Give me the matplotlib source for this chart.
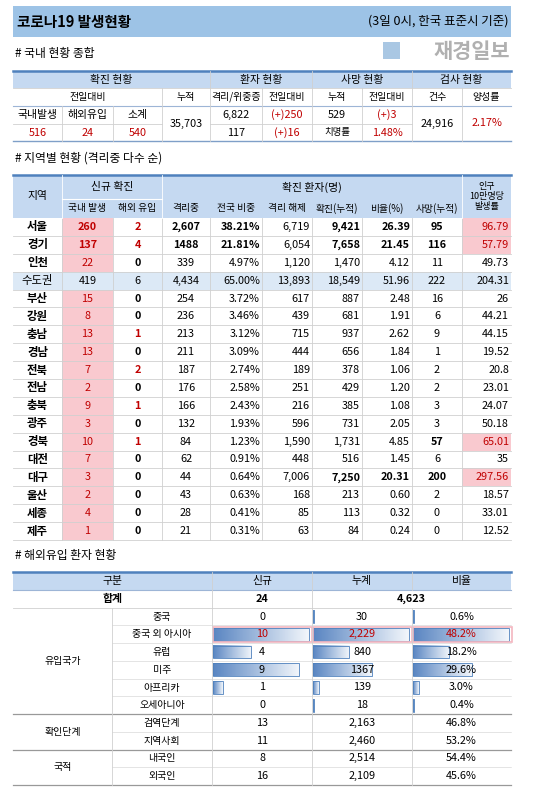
import numpy as np
import matplotlib
matplotlib.use("Agg")
import matplotlib.pyplot as plt
from matplotlib.patches import Rectangle

plt.rcParams['font.family'] = ['Noto Sans CJK KR', 'DejaVu Sans']

# ---- data ----
title = "코로나19 발생현황"
subtitle = "(3일 0시, 한국 표준시 기준)"

# summary table
new_domestic, new_overseas, new_total = 516, 24, 540
cum_total = "35,703"
isolated, isolated_diff = "6,822", "(+)250"
critical, critical_diff = "117", "(+)16"
deaths, deaths_diff = "529", "(+)3"
fatality = "1.48%"
tests, positive = "24,916", "2.17%"

# regional table
regions = ["서울", "경기", "인천", "수도권", "부산", "강원", "충남", "경남", "전북", "전남",
           "충북", "광주", "경북", "대전", "대구", "울산", "세종", "제주"]
reg_domestic = [260, 137, 22, 419, 15, 8, 13, 13, 7, 2, 9, 3, 10, 7, 3, 2, 4, 1]
reg_overseas = [2, 4, 0, 6, 0, 0, 1, 0, 2, 0, 1, 0, 1, 0, 0, 0, 0, 0]
reg_isolated = ["2,607", "1488", "339", "4,434", "254", "236", "213", "211", "187", "176",
                "166", "132", "84", "62", "44", "43", "28", "21"]
reg_share = ["38.21%", "21.81%", "4.97%", "65.00%", "3.72%", "3.46%", "3.12%", "3.09%", "2.74%",
             "2.58%", "2.43%", "1.93%", "1.23%", "0.91%", "0.64%", "0.63%", "0.41%", "0.31%"]
reg_released = ["6,719", "6,054", "1,120", "13,893", "617", "439", "715", "444", "189", "251",
                "216", "596", "1,590", "448", "7,006", "168", "85", "63"]
reg_cum = ["9,421", "7,658", "1,470", "18,549", "887", "681", "937", "656", "378", "429",
           "385", "731", "1,731", "516", "7,250", "213", "113", "84"]
reg_ratio = ["26.39", "21.45", "4.12", "51.96", "2.48", "1.91", "2.62", "1.84", "1.06", "1.20",
             "1.08", "2.05", "4.85", "1.45", "20.31", "0.60", "0.32", "0.24"]
reg_deaths = [95, 116, 11, 222, 16, 6, 9, 1, 2, 2, 3, 3, 57, 6, 200, 2, 0, 0]
reg_per100k = ["96.79", "57.79", "49.73", "204.31", "26", "44.21", "44.15", "19.52", "20.8",
               "23.01", "24.07", "50.18", "65.01", "35", "297.56", "18.57", "33.01", "12.52"]

# overseas inflow table
groups = [("유입국가", 6), ("확인단계", 2), ("국적", 2)]
sub_names = ["중국", "중국 외 아시아", "유럽", "미주", "아프리카", "오세아니아",
             "검역단계", "지역사회", "내국인", "외국인"]
sub_new = [0, 10, 4, 9, 1, 0, 13, 11, 8, 16]
sub_cum = [30, 2229, 840, 1367, 139, 18, 2163, 2460, 2514, 2109]
sub_cum_lbl = ["30", "2,229", "840", "1367", "139", "18", "2,163", "2,460", "2,514", "2,109"]
sub_pct = [0.6, 48.2, 18.2, 29.6, 3.0, 0.4, 46.8, 53.2, 54.4, 45.6]
total_new, total_cum = "24", "4,623"

# ---- drawing ----
W, H = 548, 793
fig = plt.figure(figsize=(W / 100, H / 100), dpi=100)
ax = fig.add_axes([0, 0, 1, 1])
ax.set_xlim(0, W)
ax.set_ylim(H, 0)
ax.axis("off")

HEAD = "#c5d9f1"
PINK = "#f9c9cf"
RED = "#c00000"
GRID = "#d0d0d0"
BLUE = "#4f81bd"
FS = 7.8


def cell(x0, x1, y0, y1, text="", bg=None, color="black", bold=False, ha="center", fs=FS):
    if bg:
        ax.add_patch(Rectangle((x0, y0), x1 - x0, y1 - y0, facecolor=bg, edgecolor="none", zorder=1))
    if text != "":
        if ha == "center":
            tx = (x0 + x1) / 2
        elif ha == "right":
            tx = x1 - 2
        else:
            tx = x0 + 3
        ax.text(tx, (y0 + y1) / 2, str(text), ha=ha, va="center", fontsize=fs, color=color,
                fontweight="bold" if bold else "normal", zorder=4)


def hline(y, x0=13, x1=511, c=GRID, lw=0.6):
    ax.plot([x0, x1], [y, y], color=c, lw=lw, zorder=3)


def vline(x, y0, y1, c=GRID, lw=0.6):
    ax.plot([x, x], [y0, y1], color=c, lw=lw, zorder=3)


# title bar
ax.add_patch(Rectangle((13, 6), 498, 31, facecolor="#9dc3e6", edgecolor="none"))
ax.text(17, 21.5, title, fontsize=10.5, fontweight="bold", va="center")
ax.text(508, 21.5, subtitle, fontsize=9, va="center", ha="right")
ax.text(15, 53, "# 국내 현황 종합", fontsize=8.5, va="center")
ax.text(510, 51, "재경일보", fontsize=15, fontweight="bold", color="#b0b0b0", va="center", ha="right")
ax.add_patch(Rectangle((383, 42), 17, 17, facecolor="#a9c7e3", edgecolor="none"))

# ---- table 1 ----
cols = [13, 62, 113, 162, 210, 262, 312, 362, 412, 462, 511]
r = [71, 88, 106, 124, 141]
cell(13, 511, r[0], r[1], bg=HEAD)
for (a, b, t) in [(0, 4, "확진 현황"), (4, 6, "환자 현황"), (6, 8, "사망 현황"), (8, 10, "검사 현황")]:
    cell(cols[a], cols[b], r[0], r[1], t)
for (a, b, t) in [(0, 3, "전일대비"), (3, 4, "누적"), (4, 5, "격리/위중증"), (5, 6, "전일대비"),
                  (6, 7, "누적"), (7, 8, "전일대비"), (8, 9, "건수"), (9, 10, "양성률")]:
    cell(cols[a], cols[b], r[1], r[2], t, fs=7.2)
for i, t in enumerate(["국내발생", "해외유입", "소계"]):
    cell(cols[i], cols[i + 1], r[2], r[3], t)
for i, v in enumerate([new_domestic, new_overseas, new_total]):
    cell(cols[i], cols[i + 1], r[3], r[4], v, color=RED)
cell(cols[3], cols[4], r[2], r[4], cum_total)
cell(cols[4], cols[5], r[2], r[3], isolated)
cell(cols[5], cols[6], r[2], r[3], isolated_diff, color=RED)
cell(cols[4], cols[5], r[3], r[4], critical)
cell(cols[5], cols[6], r[3], r[4], critical_diff, color=RED)
cell(cols[6], cols[7], r[2], r[3], deaths)
cell(cols[7], cols[8], r[2], r[3], deaths_diff, color=RED)
cell(cols[6], cols[7], r[3], r[4], "치명률", fs=6.8)
cell(cols[7], cols[8], r[3], r[4], fatality, color=RED)
cell(cols[8], cols[9], r[2], r[4], tests)
cell(cols[9], cols[10], r[2], r[4], positive, color=RED)
hline(r[0], c=BLUE, lw=1.8)
hline(r[1], x0=13, x1=511)
hline(r[2], c="#9db5d6", lw=0.8)
hline(r[3], x0=13, x1=cols[3])
hline(r[3], x0=cols[4], x1=cols[8])
hline(r[4], c="#7f9fc8", lw=1.0)
for x in [cols[4], cols[6], cols[8]]:
    vline(x, r[0], r[4])
for x in [cols[3], cols[5], cols[7], cols[9]]:
    vline(x, r[1], r[4])
for x in [cols[1], cols[2]]:
    vline(x, r[2], r[4])

# ---- table 2 ----
ax.text(15, 158, "# 지역별 현황 (격리중 다수 순)", fontsize=8.5, va="center")
t0, t1, t2 = 175, 199, 218
rh = (540 - t2) / len(regions)
cell(13, 511, t0, t2, bg=HEAD)
cell(cols[0], cols[1], t0, t2, "지역")
cell(cols[1], cols[3], t0, t1, "신규 확진")
cell(cols[3], cols[9], t0, t1, "확진 환자(명)")
for i, t in enumerate(["국내 발생", "해외 유입", "격리중", "전국 비중", "격리 해제",
                       "확진(누적)", "비율(%)", "사망(누적)"]):
    cell(cols[i + 1], cols[i + 2], t1, t2, t, fs=7.0)
cell(cols[9], cols[10], t0, t2, "인구\n10만명당\n발생률", fs=6.5)
ax.plot([cols[1], cols[3]], [t1, t1], color="white", lw=0.8, zorder=3)
hline(t0, c=BLUE, lw=1.8)
pink_pop = {"서울", "경기", "경북", "대구"}
for i, name in enumerate(regions):
    y0 = t2 + i * rh
    y1 = y0 + rh
    metro = name == "수도권"
    big = i < 2
    if metro:
        cell(13, 511, y0, y1, bg="#dce9f6")
    cell(cols[0], cols[1], y0, y1, name, bold=not metro, fs=8.2)
    cell(cols[1], cols[2], y0, y1, reg_domestic[i], bg=None if metro else PINK,
         color="black" if metro else RED, bold=big)
    cell(cols[2], cols[3], y0, y1, reg_overseas[i], color=RED if (reg_overseas[i] and not metro) else "black",
         bold=not metro)
    cell(cols[3], cols[4], y0, y1, reg_isolated[i], bold=big)
    cell(cols[4], cols[5], y0, y1, reg_share[i], bold=big, ha="right")
    cell(cols[5], cols[6], y0, y1, reg_released[i], ha="right")
    cell(cols[6], cols[7], y0, y1, reg_cum[i], bold=big or name == "대구", ha="right")
    cell(cols[7], cols[8], y0, y1, reg_ratio[i], bold=big or name == "대구", ha="right")
    cell(cols[8], cols[9], y0, y1, reg_deaths[i], bold=big or name in ("경북", "대구"))
    cell(cols[9], cols[10], y0, y1, reg_per100k[i], bg=PINK if name in pink_pop else None,
         color=RED if name in pink_pop else "black", ha="right")
    hline(y1)
for x in cols[1:-1]:
    vline(x, t2, 540)
vline(cols[1], t0, t2, c="white")
vline(cols[3], t0, t2, c="white")
vline(cols[9], t0, t2, c="white")

# ---- table 3 ----
ax.text(15, 555, "# 해외유입 환자 현황", fontsize=8.5, va="center")
c3 = [13, 112, 212, 312, 412, 511]
u0, u1 = 572, 590
rh3 = (785 - u1) / 11
cell(13, 511, u0, u1, bg=HEAD)
cell(c3[0], c3[2], u0, u1, "구분")
cell(c3[2], c3[3], u0, u1, "신규")
cell(c3[3], c3[4], u0, u1, "누계")
cell(c3[4], c3[5], u0, u1, "비율")
hline(u0, c=BLUE, lw=1.8)
hline(u1, c="#9db5d6", lw=0.8)
cell(c3[0], c3[2], u1, u1 + rh3, "합계", bold=True)
cell(c3[2], c3[3], u1, u1 + rh3, total_new, bold=True)
cell(c3[3], c3[5], u1, u1 + rh3, total_cum, bold=True)
hline(u1 + rh3)


def gbar(x0, y0, w, h):
    grad = np.linspace(0, 1, 64).reshape(1, -1)
    cmap = matplotlib.colors.LinearSegmentedColormap.from_list("g", ["#5a86c2", "#f2f6fb"])
    ax.imshow(grad, extent=(x0, x0 + w, y0 + h, y0), cmap=cmap, aspect="auto", zorder=2)
    ax.add_patch(Rectangle((x0, y0), w, h, facecolor="none", edgecolor="#4f81bd", lw=0.6, zorder=2))


full = 96
max_new = max(sub_new[:6])
max_cum = max(sub_cum[:6])
max_pct = max(sub_pct[:6])
start = u1 + rh3
row = 0
for gname, n in groups:
    gy0 = start + row * rh3
    cell(c3[0], c3[1], gy0, gy0 + n * rh3, gname, fs=7.2)
    for k in range(n):
        j = row + k
        y0 = start + j * rh3
        y1 = y0 + rh3
        hot = j == 1
        col = RED if hot else "black"
        if gname == "유입국가":
            for xc, v, m in [(c3[2], sub_new[j], max_new), (c3[3], sub_cum[j], max_cum),
                             (c3[4], sub_pct[j], max_pct)]:
                if v > 0:
                    gbar(xc + 1, y0 + 2.5, max(full * v / m, 1.2), rh3 - 5)
            if hot:
                for xc in c3[2:5]:
                    ax.add_patch(Rectangle((xc + 0.5, y0 + 1.5), 99, rh3 - 3, facecolor="none",
                                           edgecolor="#f4b6c0", lw=1.2, zorder=2))
        cell(c3[1], c3[2], y0, y1, sub_names[j], fs=7.2)
        cell(c3[2], c3[3], y0, y1, sub_new[j], color=col)
        cell(c3[3], c3[4], y0, y1, sub_cum_lbl[j], color=col)
        cell(c3[4], c3[5], y0, y1, f"{sub_pct[j]:.1f}%", color=col)
        if k < n - 1:
            hline(y1, x0=c3[1], c=GRID, lw=0.4)
    row += n
    hline(start + row * rh3, c="#999999", lw=0.9)
for x in c3[1:-1]:
    vline(x, u1 + rh3, 785)
vline(c3[2], u0, u1 + rh3)
vline(c3[3], u0, u1 + rh3)
vline(c3[4], u0, u1, c=GRID)

fig.savefig("out.png", dpi=100)
